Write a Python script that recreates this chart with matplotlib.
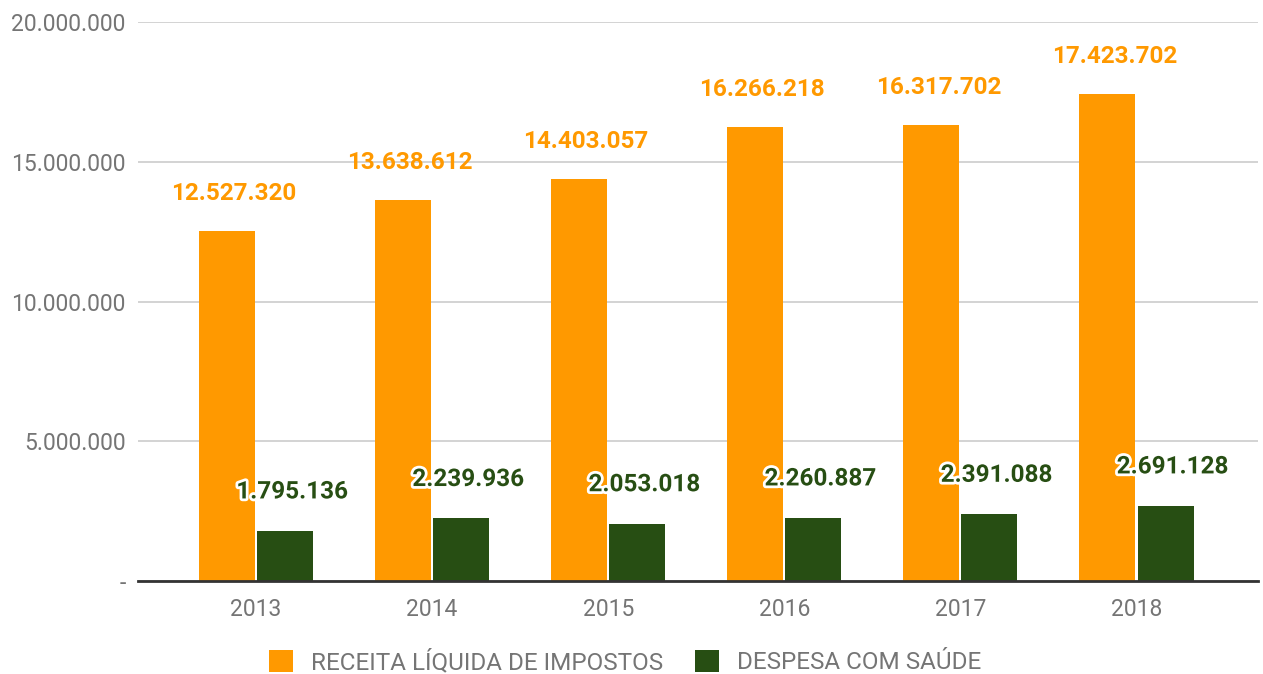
import matplotlib
matplotlib.use("Agg")
import matplotlib.pyplot as plt
import matplotlib.patheffects as pe
from matplotlib.ticker import FuncFormatter
import numpy as np

years = ["2013", "2014", "2015", "2016", "2017", "2018"]
receita = [12527320, 13638612, 14403057, 16266218, 16317702, 17423702]
despesa = [1795136, 2239936, 2053018, 2260887, 2391088, 2691128]
series_names = ["RECEITA LÍQUIDA DE IMPOSTOS", "DESPESA COM SAÚDE"]
yticks = [0, 5000000, 10000000, 15000000, 20000000]

ORANGE = "#FF9900"
GREEN = "#274E13"
GRAY = "#757575"

plt.rcParams['font.family'] = ['Roboto', 'DejaVu Sans']

fig = plt.figure(figsize=(12.63, 6.74), dpi=100)
ax = fig.add_axes([0.1093, 0.138, 0.8867, 0.829])

def fmt(v):
    return f"{int(v):,}".replace(",", ".")

x = np.arange(len(years))
w = 0.318
gap = 0.006
b1 = ax.bar(x - w/2 - gap, receita, width=w, color=ORANGE, label=series_names[0], zorder=3)
b2 = ax.bar(x + w/2 + gap, despesa, width=w, color=GREEN, label=series_names[1], zorder=3)

for xi, v in zip(x - w/2 - gap, receita):
    ax.annotate(fmt(v), (xi, v), xytext=(5, 27), textcoords="offset points",
                ha="center", va="center", fontsize=17.5, fontweight="bold",
                color=ORANGE, zorder=5)
for xi, v in zip(x + w/2 + gap, despesa):
    ax.annotate(fmt(v), (xi, v), xytext=(5, 28), textcoords="offset points",
                ha="center", va="center", fontsize=17.5, fontweight="bold",
                color=GREEN, zorder=5,
                path_effects=[pe.withStroke(linewidth=4, foreground="white")])

ax.set_ylim(0, 20000000)
ax.set_xlim(-0.67, 5.69)
ax.set_yticks(yticks)
ax.yaxis.set_major_formatter(FuncFormatter(lambda v, p: "-" if v == 0 else fmt(v)))
ax.set_xticks(x)
ax.set_xticklabels(years)
ax.tick_params(axis="y", length=0, pad=9, labelsize=16.5, labelcolor=GRAY)
ax.tick_params(axis="x", length=0, pad=12, labelsize=16.5, labelcolor=GRAY)

ax.grid(axis="y", color="#CCCCCC", linewidth=1.2, zorder=0)
ax.set_axisbelow(True)
for s in ["top", "right", "left"]:
    ax.spines[s].set_visible(False)
ax.spines["bottom"].set_color("#333333")
ax.spines["bottom"].set_linewidth(2)
ax.spines["bottom"].set_zorder(4)

leg = fig.legend(handles=[b1, b2], labels=series_names, loc="center",
                 bbox_to_anchor=(0.495, 1 - 662/674), ncol=2, frameon=False,
                 fontsize=17.5, handlelength=1.0, handleheight=1.0,
                 handletextpad=0.75, columnspacing=1.3, borderaxespad=0,
                 borderpad=0)
for t in leg.get_texts():
    t.set_color(GRAY)

fig.savefig("out.png", dpi=100)
